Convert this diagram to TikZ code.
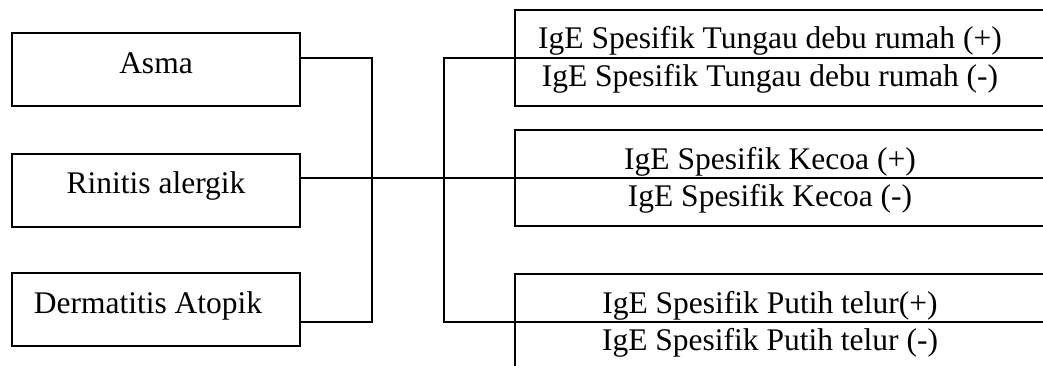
\documentclass[tikz,border=0pt]{standalone}
\usepackage{fontspec}
\setmainfont{Liberation Serif}
\begin{document}
\begin{tikzpicture}[x=1pt,y=-1pt,
  box/.style={draw,line width=2pt,rectangle,inner sep=0pt},
  lbox/.style={box,minimum width=288pt,minimum height=73pt},
  rbox/.style={box,minimum width=545pt,minimum height=96pt},
  lbl/.style={anchor=base,inner sep=0pt,font=\fontsize{31.5}{36}\selectfont},
  conn/.style={line width=2pt}]
\useasboundingbox (0,0) rectangle (1043,365);
\clip (0,0) rectangle (1043,365);
% left boxes
\node[lbox] (asma) at (156,69.5) {};
\node[lbox] (rinitis) at (156,190) {};
\node[lbox] (derm) at (156,309.5) {};
\node[lbl] (tasma) at (156,73) {Asma};
\node[lbl] (trin) at (156,193) {Rinitis alergik};
\node[lbl] (tderm) at (148,313) {Dermatitis Atopik};
% right boxes
\node[rbox] (t1) at (787.5,57.5) {};
\node[rbox] (t2) at (787.5,177.5) {};
\node[rbox] (t3) at (787.5,321.5) {};
\node[lbl] (t1p) at (770,48) {IgE Spesifik Tungau debu rumah (+)};
\node[lbl] (t1m) at (770,86) {IgE Spesifik Tungau debu rumah (-)};
\node[lbl] (t2p) at (770,169) {IgE Spesifik Kecoa (+)};
\node[lbl] (t2m) at (770,206) {IgE Spesifik Kecoa (-)};
\node[lbl] (t3p) at (770,313) {IgE Spesifik Putih telur(+)};
\node[lbl] (t3m) at (770,350) {IgE Spesifik Putih telur (-)};
% junction coordinates
\coordinate (j1a) at (372,57.5);
\coordinate (j1b) at (372,321.5);
\coordinate (j2a) at (444,57.5);
\coordinate (j2b) at (444,321.5);
% connectors
\draw[conn] (asma.east |- j1a) -- (j1a) -- (j1b) -- (derm.east |- j1b);
\draw[conn] (rinitis.east |- t2.west) -- (t2.east);
\draw[conn] (t1.east) -- (j2a) -- (j2b) -- (t3.east);
\end{tikzpicture}
\end{document}
